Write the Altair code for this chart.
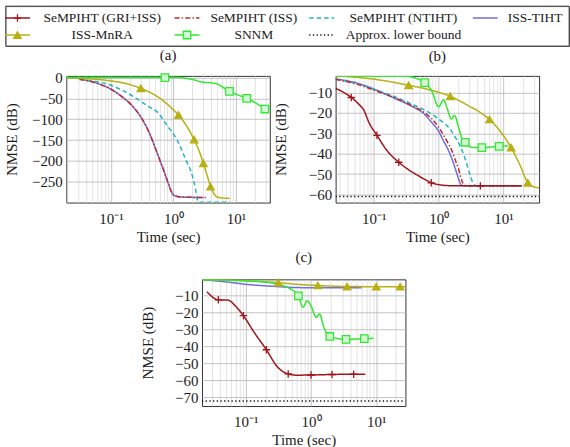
import altair as alt
import pandas as pd

# ---------------------------------------------------------------- series styling
SERIES = ["SeMPIHT (GRI+ISS)", "SeMPIHT (ISS)", "SeMPIHT (NTIHT)", "ISS-TIHT",
          "ISS-MnRA", "SNNM", "Approx. lower bound"]
COLORS = ["#a0141a", "#c42a2a", "#22b4c0", "#7070d8", "#b8b012", "#33e833", "#111111"]
DASHES = [[1, 0], [5, 2.2, 1.4, 2.2], [4.5, 3], [1, 0], [1, 0], [1, 0], [1.3, 2.4]]
PLUS = "M-1,0L1,0M0,-1L0,1"
SHAPES = [PLUS, "circle", "circle", "circle", "triangle-up", "square", "circle"]
FILLS = ["#a0141a", "#c42a2a", "#22b4c0", "#7070d8", "#b8b012", "#d2f7d2", "#111111"]

# ---------------------------------------------------------------- panel (a)
A_ISS_T = [0.0314, 0.05, 0.069, 0.1, 0.141, 0.2, 0.265, 0.339, 0.427, 0.513, 0.617,
           0.724, 0.841, 0.933, 1.0, 1.12, 1.28, 2.0, 3.39]
A_ISS_DB = [-4, -10, -17, -28, -43, -62, -83, -108, -139, -170, -202,
            -230, -258, -275, -282, -285, -286.5, -287.5, -288]
A_TIHT_T = [0.0314, 0.05, 0.069, 0.1, 0.141, 0.2, 0.265, 0.339, 0.427, 0.513, 0.617,
            0.724, 0.841, 0.933, 1.0, 1.12, 1.28, 2.0, 3.0]
A_TIHT_DB = [-4, -10, -17, -28, -43, -62, -83, -108, -139, -170, -202,
             -230, -258, -275, -282, -285, -286.5, -287.5, -288]
A_NTIHT_T = [0.0314, 0.05, 0.089, 0.15, 0.265, 0.4, 0.55, 0.79, 1.15, 1.55, 1.98,
             2.24, 2.43, 2.5, 8.0]
A_NTIHT_DB = [-4.5, -8, -16, -30, -52, -70, -83, -115, -151, -195, -234,
              -266, -296, -299, -299]
A_MNRA_T = [0.0193, 0.055, 0.1, 0.18, 0.3, 0.45, 0.61, 0.85, 1.2, 1.6, 2.13, 2.55,
            3.0, 3.45, 3.9, 4.4, 4.9, 6.0, 7.9]
A_MNRA_DB = [-0.5, -4, -8, -15, -26, -38, -50, -68, -90, -115, -149, -175,
             -206, -235, -262, -278, -286, -289, -290]
A_MNRA_MK = [0.3, 1.2, 2.13, 3.0, 3.9]
A_SNNM_T = [0.0193, 0.728, 1.2, 1.6, 2.2, 2.7, 4.3, 5.3, 6.2, 7.83, 10, 14.8, 20, 28.9]
A_SNNM_DB = [0, 0, 0, -2, -6, -10, -13.5, -17, -24, -33, -40, -50, -60, -75.5]
A_SNNM_MK = [0.728, 7.83, 14.8, 28.9]

# ---------------------------------------------------------------- panel (b)
B_GRI_T = [0.0258, 0.045, 0.06, 0.07, 0.084, 0.112, 0.16, 0.243, 0.33, 0.44, 0.6,
           0.77, 1.0, 1.26, 2.0, 4.4, 10, 19.1]
B_GRI_DB = [-7.9, -12.4, -16, -18.5, -24.6, -31, -38.5, -44.2, -47.5, -50, -52.5,
            -54.3, -55.2, -55.6, -55.8, -55.8, -55.8, -55.8]
B_GRI_MK = [0.045, 0.112, 0.243, 0.77, 4.4]
B_ISS_T = [0.0258, 0.05, 0.12, 0.25, 0.39, 0.55, 0.70, 0.9, 1.12, 1.35, 1.6, 1.8,
           2.03, 2.28, 2.51, 3.0, 5, 10, 19.1]
B_ISS_DB = [-3.5, -5.5, -9.7, -13.5, -16.5, -19, -21.4, -25, -29.5, -34, -38.5, -43,
            -47.5, -53.2, -55.6, -55.8, -55.8, -55.8, -55.8]
B_NTIHT_T = [0.0258, 0.05, 0.12, 0.25, 0.39, 0.6, 0.79, 1.0, 1.27, 1.55, 1.81, 2.2,
             2.57, 3.07, 3.45, 3.89, 6, 10, 19.1]
B_NTIHT_DB = [-3.5, -5.3, -9.2, -13, -15.7, -18.5, -20.6, -23, -25.5, -28.5, -32, -37,
              -42.6, -50.7, -54.8, -55.8, -55.8, -55.8, -55.8]
B_TIHT_T = [0.0258, 0.055, 0.12, 0.215, 0.4, 0.6, 0.75, 1.0, 1.2, 1.4, 1.6, 1.9,
            2.15, 2.3, 5, 19.1]
B_TIHT_DB = [-3.3, -5.3, -9.3, -13, -17, -20.5, -24, -29, -34, -38, -42.5, -49.5,
             -54.5, -55.7, -55.8, -55.8]
B_MNRA_T = [0.0258, 0.079, 0.1, 0.345, 0.8, 1.51, 2.9, 4.5, 6.1, 9.4, 13.1, 18.1,
            23.7, 28, 35.4]
B_MNRA_DB = [-1.8, -3.0, -3.4, -6.4, -9, -11.8, -16.5, -20, -23.2, -30, -37, -45.8,
             -54.3, -56, -56.8]
B_MNRA_MK = [0.345, 1.51, 6.1, 13.1, 23.7]
B_SNNM_T = [0.0258, 0.3, 0.45, 0.61, 0.79, 1.0, 1.19, 1.34, 1.57, 1.76, 2.03, 2.3,
            2.57, 3.25, 4.64, 8.6, 11.9]
B_SNNM_DB = [-1.9, -2.0, -3.0, -5.1, -9.5, -17, -13.5, -17.3, -23, -21.2, -27, -32.8,
             -34.4, -36.9, -37, -36.4, -36.2]
B_SNNM_MK = [0.61, 2.57, 4.64, 8.6]
B_BOUND_T = [0.0258, 35.4]
B_BOUND_DB = [-61, -61]

# ---------------------------------------------------------------- panel (c)
C_GRI_T = [0.0254, 0.038, 0.0525, 0.07, 0.092, 0.134, 0.207, 0.305, 0.447, 0.6,
           1.0, 2.1, 4.5, 6.8]
C_GRI_DB = [-8, -12.7, -12.8, -16.5, -22, -31.7, -42, -52, -56.2, -56.9,
            -56.8, -56.5, -56.3, -56.3]
C_GRI_MK = [0.038, 0.092, 0.207, 0.447, 1.0, 2.1, 4.5]
C_TIHT_T = [0.0213, 0.05, 0.1, 0.2, 0.32, 0.58, 1.0, 3.0, 6.0]
C_TIHT_DB = [-0.9, -2.2, -3.6, -4.5, -5.0, -5.5, -5.6, -5.6, -5.6]
C_MNRA_T = [0.0213, 0.1, 0.315, 0.6, 1.27, 3.57, 10, 23.2, 28]
C_MNRA_DB = [-0.8, -1.6, -2.6, -3.6, -4.3, -4.9, -5.0, -5.0, -5.0]
C_MNRA_MK = [0.315, 1.27, 3.57, 10, 23.2]
C_SNNM_T = [0.0213, 0.1, 0.2, 0.32, 0.44, 0.64, 0.75, 0.875, 1.0, 1.2, 1.35, 1.57,
            1.94, 2.66, 3.44, 6.56, 9.1]
C_SNNM_DB = [-0.9, -1.6, -2.4, -3.6, -5.5, -10.4, -17.1, -13.3, -16.2, -23, -21, -28.8,
             -34.2, -35.5, -35.9, -35.5, -35.3]
C_SNNM_MK = [0.64, 1.94, 3.44, 6.56]
C_BOUND_T = [0.0213, 28]
C_BOUND_DB = [-72, -72]

FONT = "Liberation Serif"
INK = "#1a1a1a"


def frame(curves):
    """Long table: one row per sample, flagged where a marker is drawn."""
    rows = []
    for name, t, db, mk in curves:
        for ti, di in zip(t, db):
            rows.append({"series": name, "t": ti, "db": di, "marker": ti in mk})
    return pd.DataFrame(rows)


def log_ticks(lo, hi):
    vals = []
    for e in range(-3, 3):
        for k in range(1, 10):
            v = round(k * 10.0 ** e, 6)
            if lo <= v <= hi:
                vals.append(v)
    return vals


color_scale = alt.Scale(domain=SERIES, range=COLORS)
dash_scale = alt.Scale(domain=SERIES, range=DASHES)
shape_scale = alt.Scale(domain=SERIES, range=SHAPES)
fill_scale = alt.Scale(domain=SERIES, range=FILLS)


def panel(curves, xdom, ydom, yticks, label, title_offset):
    df = frame(curves)
    major = "datum.value == 0.1 || datum.value == 1 || datum.value == 10"
    x = alt.X("t:Q", title="Time (sec)",
              scale=alt.Scale(type="log", domain=xdom, nice=False),
              axis=alt.Axis(values=log_ticks(*xdom), ticks=False, tickSize=0, domain=False,
                            labelExpr="datum.value == 0.1 ? '10⁻¹' : datum.value == 1 ? '10⁰'"
                                      " : datum.value == 10 ? '10¹' : ''",
                            labelOverlap=False, labelFlush=False, labelPadding=9,
                            gridColor={"condition": {"test": major, "value": "#b5b5b5"},
                                       "value": "#dcdcdc"},
                            gridWidth=0.8, titleY=27, titleBaseline="top"))
    y = alt.Y("db:Q", title="NMSE (dB)",
              scale=alt.Scale(domain=ydom, nice=False, zero=False),
              axis=alt.Axis(values=yticks, ticks=False, tickSize=0, domain=False,
                            labelPadding=4, gridColor="#b5b5b5", gridWidth=0.8,
                            titleX=-47, titleBaseline="bottom"))
    layers = []
    order = ["ISS-TIHT", "SeMPIHT (NTIHT)", "SeMPIHT (ISS)", "SeMPIHT (GRI+ISS)",
             "ISS-MnRA", "SNNM", "Approx. lower bound"]
    present = set(df["series"])
    for name in order:
        if name not in present:
            continue
        layers.append(
            alt.Chart(df).transform_filter(alt.datum.series == name)
            .mark_line(strokeWidth=1.5, interpolate="monotone", clip=True)
            .encode(x=x, y=y,
                    color=alt.Color("series:N", scale=color_scale, legend=None),
                    strokeDash=alt.StrokeDash("series:N", scale=dash_scale, legend=None))
        )
    points = (
        alt.Chart(df).transform_filter(alt.datum.marker)
        .mark_point(size=56, strokeWidth=1.3, opacity=1, fillOpacity=1)
        .encode(x=x, y=y,
                stroke=alt.Stroke("series:N", scale=color_scale, legend=None),
                fill=alt.Fill("series:N", scale=fill_scale, legend=None),
                shape=alt.Shape("series:N", scale=shape_scale, legend=None))
    )
    return alt.layer(*layers, points).properties(
        width=204, height=127,
        title=alt.TitleParams(label, fontSize=15, font=FONT, fontWeight="normal",
                              color=INK, offset=title_offset),
    )


def gap(w):
    """Empty, invisible block used to push a row to the right."""
    return alt.Chart(pd.DataFrame({"v": [0]})).mark_point(size=1, opacity=0).properties(
        width=w, height=1, view=alt.ViewBackground(strokeOpacity=0))


pa = panel([
    ("ISS-TIHT", A_TIHT_T, A_TIHT_DB, []),
    ("SeMPIHT (ISS)", A_ISS_T, A_ISS_DB, []),
    ("SeMPIHT (NTIHT)", A_NTIHT_T, A_NTIHT_DB, []),
    ("ISS-MnRA", A_MNRA_T, A_MNRA_DB, A_MNRA_MK),
    ("SNNM", A_SNNM_T, A_SNNM_DB, A_SNNM_MK),
], [0.0193, 34.6], [-300, 4], [-250, -200, -150, -100, -50, 0], "(a)", 8)

pb = panel([
    ("SeMPIHT (GRI+ISS)", B_GRI_T, B_GRI_DB, B_GRI_MK),
    ("SeMPIHT (ISS)", B_ISS_T, B_ISS_DB, []),
    ("SeMPIHT (NTIHT)", B_NTIHT_T, B_NTIHT_DB, []),
    ("ISS-TIHT", B_TIHT_T, B_TIHT_DB, []),
    ("ISS-MnRA", B_MNRA_T, B_MNRA_DB, B_MNRA_MK),
    ("SNNM", B_SNNM_T, B_SNNM_DB, B_SNNM_MK),
    ("Approx. lower bound", B_BOUND_T, B_BOUND_DB, []),
], [0.0258, 35.4], [-64, -1.8], [-60, -50, -40, -30, -20, -10], "(b)", 12)

pc = panel([
    ("SeMPIHT (GRI+ISS)", C_GRI_T, C_GRI_DB, C_GRI_MK),
    ("ISS-TIHT", C_TIHT_T, C_TIHT_DB, []),
    ("ISS-MnRA", C_MNRA_T, C_MNRA_DB, C_MNRA_MK),
    ("SNNM", C_SNNM_T, C_SNNM_DB, C_SNNM_MK),
    ("Approx. lower bound", C_BOUND_T, C_BOUND_DB, []),
], [0.0213, 28], [-75, -0.7], [-70, -60, -50, -40, -30, -20, -10], "(c)", 12)

# ---------------------------------------------------------------- shared legend box
MARKED = ["SeMPIHT (GRI+ISS)", "ISS-MnRA", "SNNM"]
leg = pd.DataFrame({
    "series": SERIES,
    "sx": [i % 4 for i in range(len(SERIES))],
    "lx": [i % 4 + 0.5 for i in range(len(SERIES))],
    "row": [i // 4 for i in range(len(SERIES))],
})
# slot k holds a symbol at x = k and its label at k + 0.5; the box edges sit at
# slots -0.5 and 4 (columns) and -0.7 and 1.7 (rows)
leg_scale = alt.Scale(domain=[-0.5, 0, 0.5, 1, 1.5, 2, 2.5, 3, 3.5, 4],
                      range=[0, 12, 97, 182, 249, 317, 399, 481, 531, 565])
row_scale = alt.Scale(domain=[-0.7, 0, 1, 1.7], range=[0, 12, 29, 40])
row_y = alt.Y("row:Q", axis=None, scale=row_scale)
box = pd.DataFrame({"x0": [-0.5], "x1": [4], "y0": [-0.7], "y1": [1.7]})

leg_frame = alt.Chart(box).mark_rect(
    fill="#ffffff", fillOpacity=0, stroke="#6a6a6a", strokeWidth=1, strokeOpacity=1
).encode(x=alt.X("x0:Q", axis=None, scale=leg_scale), x2="x1:Q",
         y=alt.Y("y0:Q", axis=None, scale=row_scale), y2="y1:Q")
leg_lines = alt.Chart(leg).mark_point(shape="M-1,0L1,0", size=625, filled=False,
                                      strokeWidth=1.5, opacity=1).encode(
    x=alt.X("sx:Q", axis=None, scale=leg_scale), y=row_y,
    stroke=alt.Stroke("series:N", scale=color_scale, legend=None),
    strokeDash=alt.StrokeDash("series:N", scale=dash_scale, legend=None))
leg_marks = alt.Chart(leg).transform_filter(
    alt.FieldOneOfPredicate(field="series", oneOf=MARKED)
).mark_point(size=56, strokeWidth=1.3, opacity=1, fillOpacity=1).encode(
    x=alt.X("sx:Q", axis=None, scale=leg_scale), y=row_y,
    stroke=alt.Stroke("series:N", scale=color_scale, legend=None),
    fill=alt.Fill("series:N", scale=fill_scale, legend=None),
    shape=alt.Shape("series:N", scale=shape_scale, legend=None))
leg_text = alt.Chart(leg).mark_text(fontSize=13.5, font=FONT, color=INK, align="center",
                                    baseline="middle").encode(
    x=alt.X("lx:Q", axis=None, scale=leg_scale), y=row_y, text="series:N")
legend_box = alt.layer(leg_frame, leg_lines, leg_marks, leg_text).properties(
    width=565, height=40)

row_ab = alt.hconcat(gap(1), alt.hconcat(pa, pb, spacing=1), spacing=-3)
row_c = alt.hconcat(gap(134), pc, spacing=0)
body = alt.vconcat(row_ab, row_c, spacing=3)
chart = alt.vconcat(legend_box, body, spacing=0).properties(
    padding={"left": 1.5, "top": 4.5, "right": 0, "bottom": 0}
).configure_view(stroke="#333333", strokeWidth=1).configure_axis(
    labelFont=FONT, titleFont=FONT, labelFontSize=15, titleFontSize=15,
    titleFontWeight="normal", labelColor=INK, titleColor=INK,
).configure_title(font=FONT)

chart.save("out.html", embed_options={"renderer": "svg", "actions": False})
